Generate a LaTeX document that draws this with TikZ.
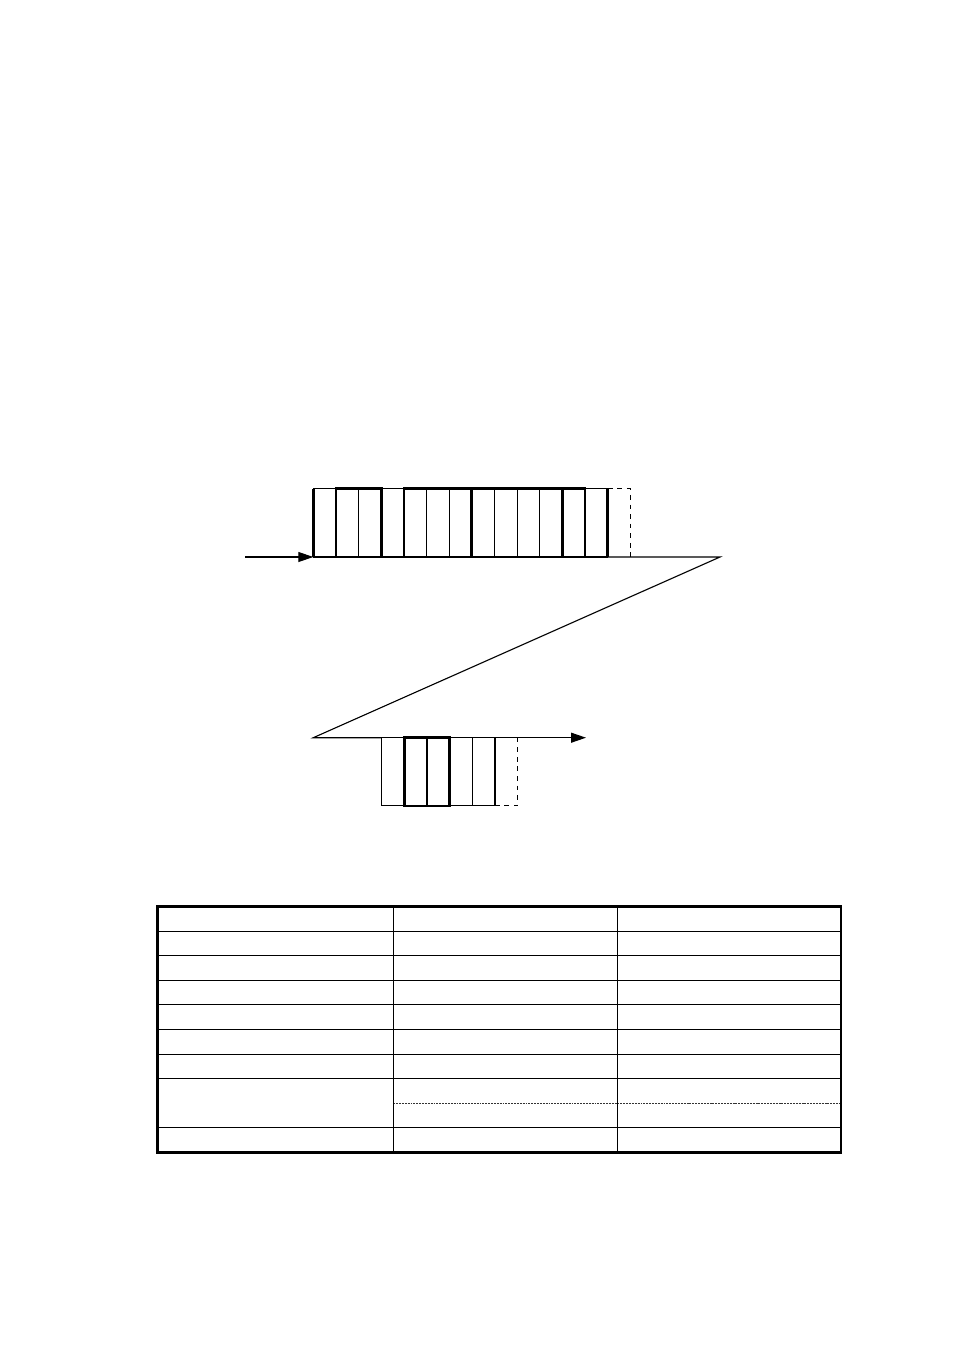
\documentclass[tikz,border=0pt]{standalone}
\usetikzlibrary{arrows.meta,positioning}

\tikzset{
  cell/.style={draw,line width=0.7pt,minimum width=0.4983cm,minimum height=1.5cm,inner sep=0pt,outer sep=0pt},
  lastcell/.style={cell,draw=none},
  open/.style={dashed,line width=0.7pt},
  grp/.style={line width=1.7pt},
  flow/.style={line width=0.7pt},
  tip/.style={-{Triangle[length=0.33cm,width=0.22cm]}},
  rule/.style={line width=0.7pt},
  frame/.style={line width=1.6pt},
  split/.style={line width=0.9pt,black!80,dash pattern=on 1.2pt off 0.6pt}
}

\begin{document}
\begin{tikzpicture}[x=0.022cm,y=-0.022cm]
\useasboundingbox (0,0) rectangle (954,1350);

\foreach \i in {1,...,13}
  \node [cell,anchor=south west] (t\i) at ({313.3+(\i-1)*22.65},557) {};
\node [lastcell,anchor=south west] (t14) at ({313.3+13*22.65},557) {};
\draw [open] (t14.north west) -- (t14.north east) -- (t14.south east);
\draw [grp] (t2.north west) rectangle (t3.south east);
\draw [grp] (t5.north west) rectangle (t7.south east);
\draw [grp] (t8.north west) rectangle (t11.south east);
\draw [grp] (t12.north west) rectangle (t12.south east);
\draw [grp] (t1.south west) -- (t1.north west);
\draw [grp] (t13.south east) -- (t13.north east);

\foreach \i in {1,...,5}
  \node [cell,anchor=north west] (b\i) at ({381.7+(\i-1)*22.65},737.7) {};
\node [lastcell,anchor=north west] (b6) at ({381.7+5*22.65},737.7) {};
\draw [open] (b6.north east) -- (b6.south east) -- (b6.south west);
\draw [grp] (b2.north west) rectangle (b3.south east);

\coordinate (in) at (245,557);
\coordinate (turn) at (720,557);
\coordinate (back) at (313.3,737.7);
\coordinate (out) at (586,737.7);
\draw [flow,tip] (in) -- (t1.south west);
\draw [flow] (t1.south west) -- (turn) -- (back) -- (b1.north west);
\draw [flow,tip] (b1.north west) -- (out);

\foreach \k in {1,...,7,9}
  \draw [rule] (157.5,{906.5+\k*24.6}) -- (841,{906.5+\k*24.6});
\draw [split] (393.3,{906.5+8*24.6}) -- (841,{906.5+8*24.6});
\foreach \x in {393.3,617.3}
  \draw [rule] (\x,906.5) -- (\x,1152.5);
\draw [frame] (157.5,906.5) rectangle (841,1152.5);
\end{tikzpicture}
\end{document}
